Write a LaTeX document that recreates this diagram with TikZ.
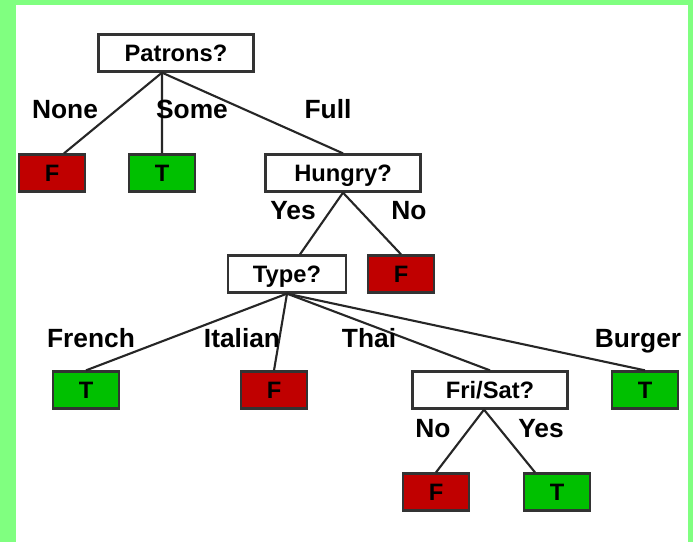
\documentclass[tikz,border=0pt]{standalone}
\usepackage{fontspec}
\setmainfont{Liberation Sans}
\definecolor{framegreen}{RGB}{128,255,128}
\definecolor{nored}{RGB}{192,0,0}
\definecolor{yesgreen}{RGB}{0,192,0}
\tikzset{
  test/.style={draw=black!80, line width=1.3pt, fill=white, minimum width=3.1cm,
    minimum height=0.74cm, inner sep=0pt, text height=9.6pt, text depth=0pt,
    font=\fontsize{13.5}{16}\selectfont\bfseries},
  leaf/.style={draw=black!80, line width=1.3pt, minimum width=1.32cm,
    minimum height=0.74cm, inner sep=0pt, text height=9.6pt, text depth=0pt,
    font=\fontsize{13.5}{16}\selectfont\bfseries},
  leafF/.style={leaf, fill=nored},
  leafT/.style={leaf, fill=yesgreen},
  branch/.style={anchor=base, inner sep=0pt, font=\fontsize{15}{18}\selectfont\bfseries},
  edge/.style={line width=1.2pt, black!85}
}
\begin{document}
\begin{tikzpicture}[x=0.02cm,y=-0.02cm]
\useasboundingbox (0,0) rectangle (693,542);
\fill[framegreen] (0,0) rectangle (693,542);
\fill[white] (16,5) rectangle (688,542);
% tests
\node[test] (patrons) at (176,53) {Patrons?};
\node[test] (hungry) at (343,173) {Hungry?};
\node[test, minimum width=2.36cm] (type) at (287,274) {Type?};
\node[test] (frisat) at (490,390) {Fri/Sat?};
% leaves
\node[leafF] (none) at (52,173) {F};
\node[leafT] (some) at (162,173) {T};
\node[leafF] (nothungry) at (401,274) {F};
\node[leafT] (french) at (86,390) {T};
\node[leafF] (italian) at (274,390) {F};
\node[leafT] (burger) at (645,390) {T};
\node[leafF] (notweekend) at (436,492) {F};
\node[leafT] (weekend) at (557,492) {T};
% branches
\draw[edge] ([xshift=-0.28cm]patrons.south) -- ([xshift=0.24cm]none.north);
\draw[edge] ([xshift=-0.28cm]patrons.south) -- (some.north);
\draw[edge] ([xshift=-0.28cm]patrons.south) -- (hungry.north);
\draw[edge] (hungry.south) -- ([xshift=0.26cm]type.north);
\draw[edge] (hungry.south) -- (nothungry.north);
\draw[edge] (type.south) -- (french.north);
\draw[edge] (type.south) -- (italian.north);
\draw[edge] (type.south) -- (frisat.north);
\draw[edge] (type.south) -- (burger.north);
\draw[edge] ([xshift=-0.12cm]frisat.south) -- (notweekend.north);
\draw[edge] ([xshift=-0.12cm]frisat.south) -- ([xshift=-0.44cm]weekend.north);
% branch labels
\node[branch] (lnone) at (65,118) {None};
\node[branch] (lsome) at (192,118) {Some};
\node[branch] (lfull) at (328,118) {Full};
\node[branch] (lyes) at (293,219) {Yes};
\node[branch] (lno) at (409,219) {No};
\node[branch] (lfrench) at (91,347) {French};
\node[branch] (litalian) at (242,347) {Italian};
\node[branch] (lthai) at (369,347) {Thai};
\node[branch] (lburger) at (638,347) {Burger};
\node[branch] (lno2) at (433,437) {No};
\node[branch] (lyes2) at (541,437) {Yes};
\end{tikzpicture}
\end{document}
